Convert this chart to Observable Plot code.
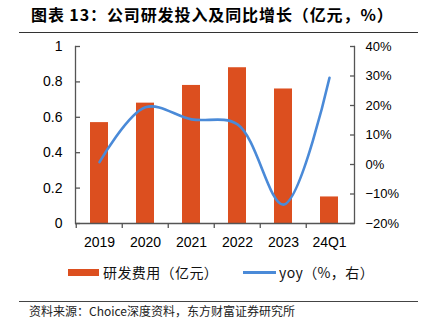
<!DOCTYPE html>
<html><head><meta charset="utf-8">
<script src="https://cdn.jsdelivr.net/npm/d3@7"></script>
<script src="https://cdn.jsdelivr.net/npm/@observablehq/plot@0.6"></script>
<style>
body{margin:0;width:421px;height:330px;position:relative;overflow:hidden;background:#fff;font-family:"Noto Sans CJK SC","Noto Sans",sans-serif;color:#000}
#title{position:absolute;left:31px;top:4px;font-size:16px;font-weight:bold;line-height:20px;letter-spacing:0.9px;white-space:nowrap}
#tline{position:absolute;left:19px;top:32px;width:399px;height:0;border-top:1.5px solid #333}
#chart{position:absolute;left:0;top:34px}
.sw{position:absolute}
.lt{position:absolute;font-size:14px;line-height:16px;white-space:nowrap;letter-spacing:0.4px;color:#111}
#fline{position:absolute;left:19px;top:301px;width:399px;height:0;border-top:1.5px solid #444}
#source{position:absolute;left:29px;top:304px;font-size:12px;line-height:14px;white-space:nowrap;color:#222;letter-spacing:0px}
</style></head>
<body>
<div id="title">图表 13：公司研发投入及同比增长（亿元，%）</div>
<div id="tline"></div>
<div id="chart"></div>
<div class="sw" id="sw1"></div><div class="lt" id="lt1"></div>
<div class="sw" id="sw2"></div><div class="lt" id="lt2"></div>
<div id="fline"></div>
<div id="source">资料来源：Choice深度资料，东方财富证券研究所</div>
<script>
const categories = ["2019","2020","2021","2022","2023","24Q1"];
const rdExpense = [0.57,0.68,0.78,0.88,0.76,0.15];
const yoyPct = [0.8,19.4,15.3,13.6,-13.6,29.4];
const leftTicks = [0,0.2,0.4,0.6,0.8,1];
const rightTicks = [-20,-10,0,10,20,30,40];
const seriesNames = ["研发费用（亿元）","yoy（%，右）"];

const barColor = "#DC4F1F";
const lineColor = "#4A8AD8";
const axisColor = "#555";

const yoyMin = -20, yoyMax = 40;
const toLeft = p => (p - yoyMin) / (yoyMax - yoyMin);
const rows = categories.map((c, i) => ({cat: c, rd: rdExpense[i], yoy: yoyPct[i]}));

const W = 421, H = 219, mL = 75, mR = 67, mT = 12, mB = 30;
const step = (W - mL - mR) / categories.length;

const fmtPct = v => { const p = Math.round(v * (yoyMax - yoyMin) + yoyMin); return (p < 0 ? "\u2212" + (-p) : String(p)) + "%"; };

const chart = Plot.plot({
  width: W, height: H, marginLeft: mL, marginRight: mR, marginTop: mT, marginBottom: mB,
  style: {fontFamily: "'Liberation Sans', Arial, sans-serif", fontSize: "13px", color: "#000", background: "#fff"},
  x: {domain: categories, paddingInner: 0.6, paddingOuter: 0.3, axis: null, label: null},
  y: {domain: [0, 1], axis: null, label: null},
  marks: [
    Plot.barY(rows, {x: "cat", y: "rd", fill: barColor}),
    Plot.line(rows, {x: "cat", y: d => toLeft(d.yoy), stroke: lineColor, strokeWidth: 2.6, curve: "catmull-rom"}),
    Plot.frame({anchor: "left", stroke: axisColor, strokeWidth: 1.3}),
    Plot.frame({anchor: "right", stroke: axisColor, strokeWidth: 1.3}),
    Plot.ruleY([0], {stroke: axisColor, strokeWidth: 1.6}),
    Plot.axisY(leftTicks, {anchor: "left", label: null, tickSize: 5, dx: 5, tickFormat: () => "", stroke: axisColor, strokeWidth: 1.3}),
    Plot.axisY(leftTicks, {anchor: "left", label: null, tickSize: 0, tickPadding: 13, tickFormat: d => String(d), fontSize: 14}),
    Plot.axisY(rightTicks.map(toLeft), {anchor: "right", label: null, tickSize: 5, dx: -5, tickFormat: () => "", stroke: axisColor, strokeWidth: 1.3}),
    Plot.axisY(rightTicks.map(toLeft), {anchor: "right", label: null, tickSize: 0, tickPadding: 11, tickFormat: fmtPct, fontSize: 13}),
    Plot.axisX({label: null, tickSize: 5, dx: -step / 2, tickFormat: () => "", stroke: axisColor, strokeWidth: 1.3}),
    Plot.axisX({label: null, tickSize: 0, tickPadding: 14, fontSize: 14})
  ]
});
document.getElementById("chart").appendChild(chart);

const sw1 = document.getElementById("sw1");
Object.assign(sw1.style, {left: "68px", top: "269px", width: "31px", height: "7px", background: barColor});
const lt1 = document.getElementById("lt1");
lt1.textContent = seriesNames[0];
Object.assign(lt1.style, {left: "103px", top: "264px"});
const sw2 = document.getElementById("sw2");
Object.assign(sw2.style, {left: "243px", top: "271px", width: "33px", height: "3px", background: lineColor});
const lt2 = document.getElementById("lt2");
lt2.textContent = seriesNames[1];
Object.assign(lt2.style, {left: "279px", top: "264px"});
</script>
</body></html>
